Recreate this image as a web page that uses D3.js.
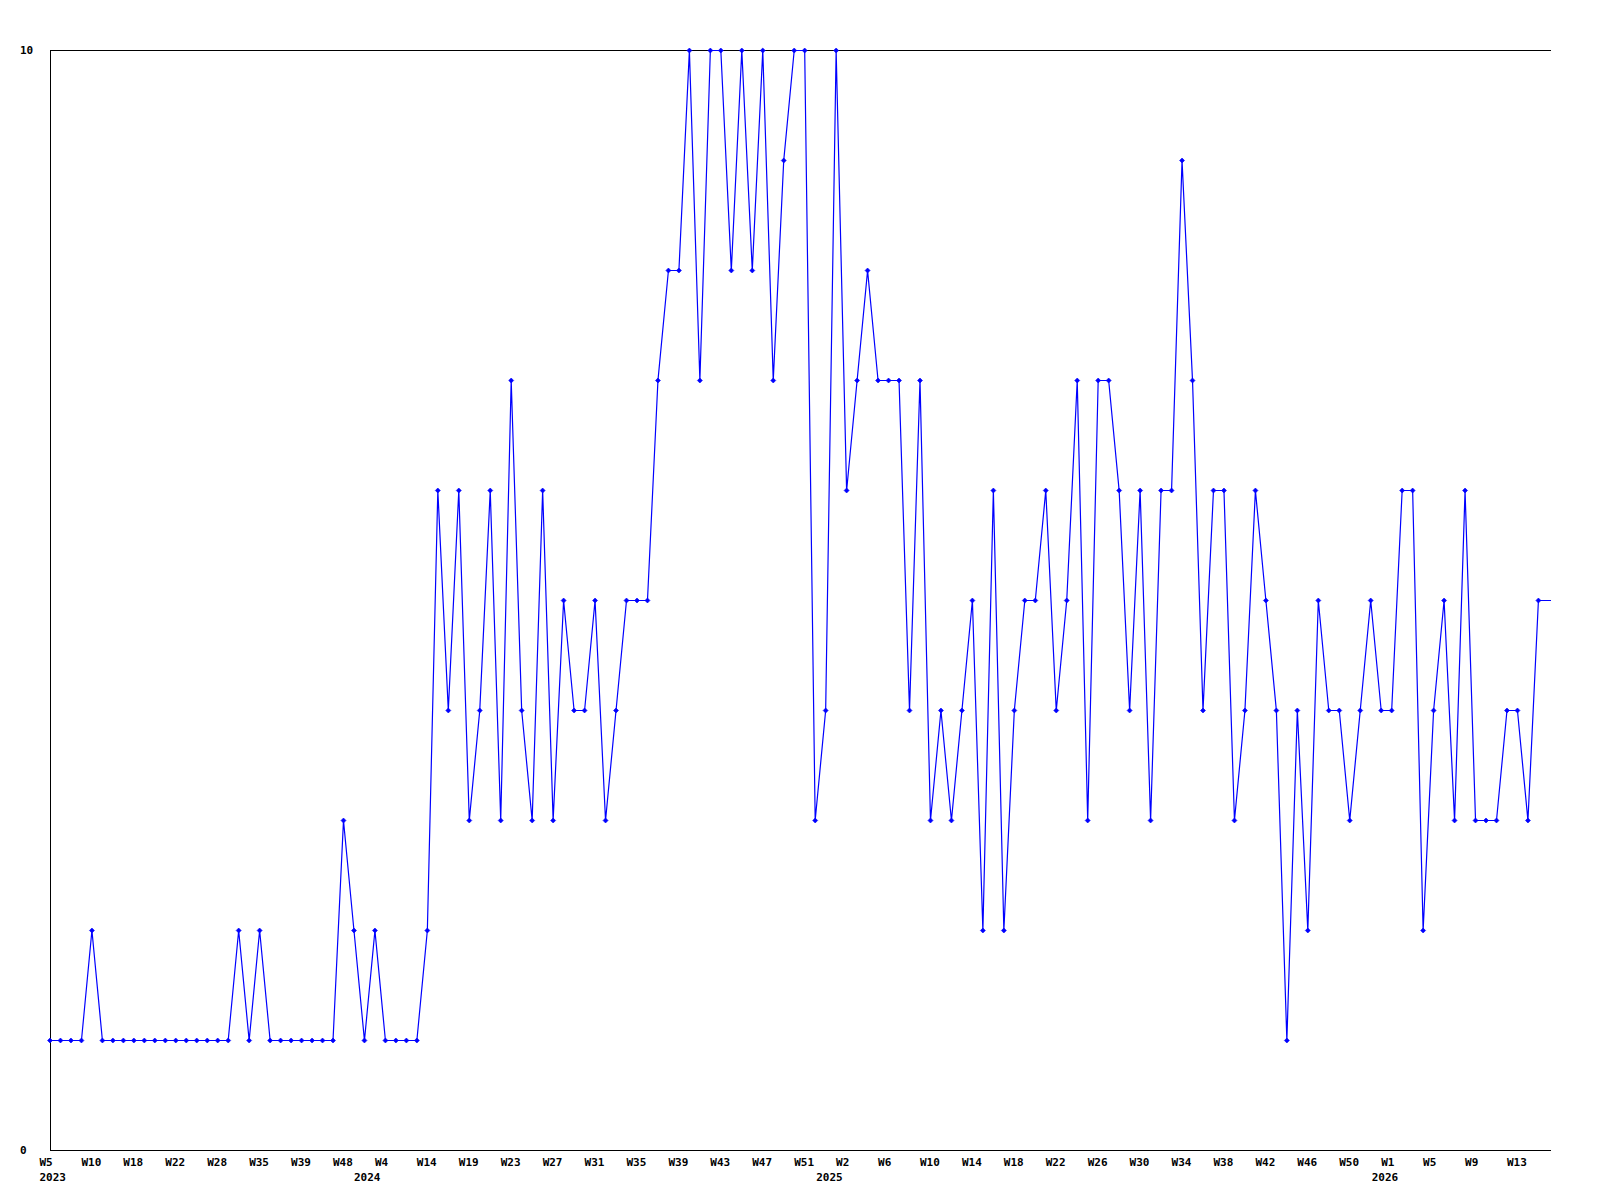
<!DOCTYPE html>
<html>
<head>
<meta charset="utf-8">
<script src="https://cdn.jsdelivr.net/npm/d3@7"></script>
<style>
  html, body { margin: 0; padding: 0; background: #fff; }
  svg { display: block; }
  text { font-family: "DejaVu Sans Mono", monospace; font-weight: bold; font-size: 11px; fill: #000; }
</style>
</head>
<body>
<svg id="chart" width="1600" height="1200"></svg>
<script>
// ---- data ----
const values = [
  1,1,1,1,2,1,1,1,1,1,1,1,1,1,1,1,1,1,2,1,
  2,1,1,1,1,1,1,1,3,2,1,2,1,1,1,1,2,6,4,6,
  3,4,6,3,7,4,3,6,3,5,4,4,5,3,4,5,5,5,7,8,
  8,10,7,10,10,8,10,8,10,7,9,10,10,3,4,10,6,7,8,7,
  7,7,4,7,3,4,3,4,5,2,6,2,4,5,5,6,4,5,7,3,
  7,7,6,4,6,3,6,6,9,7,4,6,6,3,4,6,5,4,1,4,
  2,5,4,4,3,4,5,4,4,6,6,2,4,5,3,6,3,3,3,4,
  4,3,5
];
const currentValue = 5;          // partial current week, drawn at the right edge
const weekLabels = ["W5","W10","W18","W22","W28","W35","W39","W48","W4","W14",
  "W19","W23","W27","W31","W35","W39","W43","W47","W51","W2",
  "W6","W10","W14","W18","W22","W26","W30","W34","W38","W42",
  "W46","W50","W1","W5","W9","W13"];
const weekLabelStep = 4;
const yearLabels = ["2023","2024","2025","2026"];
const yearLabelPos = [0, 30.0, 74.1, 127.1];
const yTickLabels = [0, 10];

// ---- layout ----
const svg = d3.select("#chart");
const mLeft = 50, mRight = 1551, mTop = 50, mBottom = 1150;
const xMax = 143.2;
const x = d3.scaleLinear().domain([0, xMax]).range([mLeft, mRight]);
const y = d3.scaleLinear().domain([0, 10]).range([mBottom, mTop]);

// frame: left axis, bottom axis, top line
const g = svg.append("g");
g.append("line").attr("x1", mLeft + 0.5).attr("x2", mLeft + 0.5).attr("y1", mTop).attr("y2", mBottom + 0.5)
  .attr("stroke", "#000").attr("stroke-width", 1);
g.append("line").attr("x1", mLeft).attr("x2", mRight).attr("y1", mBottom + 0.5).attr("y2", mBottom + 0.5)
  .attr("stroke", "#000").attr("stroke-width", 1);
g.append("line").attr("x1", mLeft).attr("x2", mRight).attr("y1", y(10) + 0.5).attr("y2", y(10) + 0.5)
  .attr("stroke", "#000").attr("stroke-width", 1);

// y labels
g.selectAll("text.ylab").data(yTickLabels).enter().append("text")
  .attr("class", "ylab")
  .attr("x", 20)
  .attr("y", d => y(d) + 4)
  .attr("text-anchor", "start")
  .text(d => d);

// x week labels
g.selectAll("text.xlab").data(weekLabels).enter().append("text")
  .attr("class", "xlab")
  .attr("x", (d, i) => x(i * weekLabelStep) - 10.5)
  .attr("y", 1166)
  .attr("text-anchor", "start")
  .text(d => d);

// year labels
g.selectAll("text.yrlab").data(yearLabels).enter().append("text")
  .attr("class", "yrlab")
  .attr("x", (d, i) => x(yearLabelPos[i]) - 10.5)
  .attr("y", 1181)
  .attr("text-anchor", "start")
  .text(d => d);

// line
const pts = values.map((v, i) => [i, v]);
const linePts = pts.concat([[xMax, currentValue]]);
const line = d3.line().x(d => x(d[0])).y(d => y(d[1]) + 0.5);
svg.append("path")
  .attr("d", line(linePts))
  .attr("fill", "none")
  .attr("stroke", "#0000ff")
  .attr("stroke-width", 1.2);

// markers (small diamonds)
svg.selectAll("path.mk").data(pts).enter().append("path")
  .attr("class", "mk")
  .attr("transform", d => `translate(${x(d[0])},${y(d[1]) + 0.5})`)
  .attr("d", "M-2.5,0L0,-2.5L2.5,0L0,2.5Z")
  .attr("fill", "#0000ff")
  .attr("stroke", "#0000ff")
  .attr("stroke-width", 0.6);
</script>
</body>
</html>
